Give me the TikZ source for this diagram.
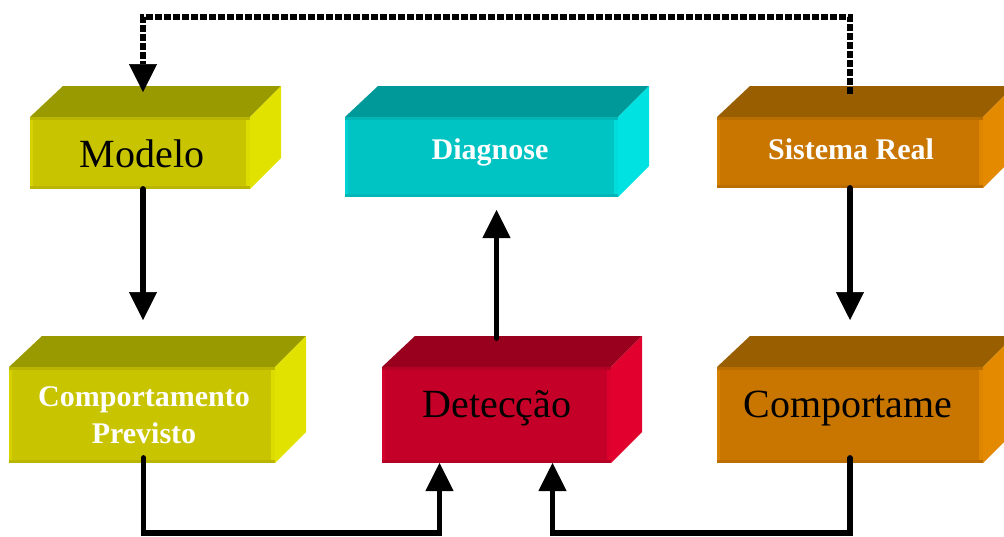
\documentclass[tikz,border=0pt]{standalone}
\usepackage{fontspec}
\setmainfont{Liberation Serif}
\usetikzlibrary{arrows.meta}

% colour families: top face, front face, side face, front bevels
\definecolor{olive-top}{HTML}{999900}
\definecolor{olive-front}{HTML}{C8C400}
\definecolor{olive-side}{HTML}{E2E200}
\definecolor{olive-dark}{HTML}{BAB600}
\definecolor{olive-light}{HTML}{D6D200}
\definecolor{teal-top}{HTML}{009999}
\definecolor{teal-front}{HTML}{00C4C4}
\definecolor{teal-side}{HTML}{00E2E2}
\definecolor{teal-dark}{HTML}{00B6B6}
\definecolor{teal-light}{HTML}{00D2D2}
\definecolor{amber-top}{HTML}{995E00}
\definecolor{amber-front}{HTML}{C87600}
\definecolor{amber-side}{HTML}{E48A00}
\definecolor{amber-dark}{HTML}{BA6E00}
\definecolor{amber-light}{HTML}{D68000}
\definecolor{crimson-top}{HTML}{99001E}
\definecolor{crimson-front}{HTML}{C40028}
\definecolor{crimson-side}{HTML}{E2002E}
\definecolor{crimson-dark}{HTML}{B60024}
\definecolor{crimson-light}{HTML}{D2002B}

\tikzset{
  front/.style={inner sep=0pt, outer sep=0pt, anchor=north west, draw=none},
  conn/.style={line width=5.8pt, line cap=round, line join=miter},
  tip/.style={-{Triangle[width=28pt,length=28pt,line width=0.5pt]}},
  dashconn/.style={line width=5.8pt, line cap=butt, line join=miter, dash pattern=on 7pt off 2pt},
  bigtxt/.style={font=\fontsize{40}{48}\selectfont, text=black, inner sep=0pt, anchor=base},
  smalltxt/.style={font=\fontsize{30}{37}\selectfont\bfseries, text=white, inner sep=0pt, align=center, anchor=base},
}

% \blockbox{name}{x1}{y1}{x2}{y2}{family}: extruded box, front face is the node
\newcommand\blockbox[6]{%
  \fill[#6-top] (#2,#3) -- ({#2+33},{#3-31}) -- ({#4+31},{#3-31}) -- (#4,#3) -- cycle;
  \fill[#6-side] (#4,#3) -- ({#4+31},{#3-31}) -- ({#4+31},{#5-31}) -- (#4,#5) -- cycle;
  \node[front, fill=#6-front, minimum width={(#4-#2)*1pt}, minimum height={(#5-#3)*1pt}] (#1) at (#2,#3) {};
  \fill[#6-light] (#2,#3) rectangle ({#2+3},#5);
  \fill[#6-side!80!#6-front] ({#4-4},#3) rectangle (#4,#5);
  \fill[#6-dark] (#2,#3) rectangle (#4,{#3+3});
  \fill[#6-dark] (#2,{#5-3}) rectangle (#4,#5);
}

\begin{document}
\begin{tikzpicture}[x=1pt, y=-1pt]
  \useasboundingbox (0,0) rectangle (1004,536);
  \clip (0,0) rectangle (1004,536);

  % blocks
  \blockbox{modelo}{30}{117}{250}{189}{olive}
  \blockbox{diag}{345}{117}{618}{197}{teal}
  \blockbox{sistema}{717}{117}{983}{188}{amber}
  \blockbox{prev}{9}{367}{275}{463}{olive}
  \blockbox{detec}{382}{367}{611}{463}{crimson}
  \blockbox{comp}{717}{367}{983}{463}{amber}

  % labels
  \node[bigtxt] (modelo-txt) at (142,167) {Modelo};
  \node[smalltxt] (diag-txt) at (490,159) {Diagnose};
  \node[smalltxt] (sistema-txt) at (851,159) {Sistema Real};
  \node[smalltxt] (prev-txt) at (144,443) {Comportamento\\Previsto};
  \node[bigtxt] (detec-txt) at (497,417) {Detecção};
  \node[bigtxt] (comp-txt) at (848,417) {Comportame};

  % routing points
  \coordinate (topline) at (0,17);
  \coordinate (botline) at (0,533);

  % feedback from the real system back to the model
  \draw[dashconn, tip] ([yshift=23pt]sistema.north)
    -- (sistema.north |- topline)
    -- ([xshift=3pt]modelo.north |- topline)
    -- ([xshift=3pt,yshift=25pt]modelo.north);

  % vertical flows
  \draw[conn, tip] ([xshift=3pt]modelo.south) -- ([xshift=3pt,yshift=47pt]modelo.south |- prev.north);
  \draw[conn, tip] (sistema.south) -- ([yshift=47pt]sistema.south |- comp.north);
  \draw[conn, tip] ([yshift=29pt]detec.north) -- ([yshift=-13pt]detec.north |- diag.south);

  % both behaviours into detection
  \draw[conn, tip] ([xshift=1.5pt,yshift=5pt]prev.south)
    -- ([xshift=1.5pt]prev.south |- botline)
    -- ([xshift=-57pt]detec.south |- botline)
    -- ([xshift=-57pt]detec.south);
  \draw[conn, tip] ([yshift=5pt]comp.south)
    -- (comp.south |- botline)
    -- ([xshift=56pt]detec.south |- botline)
    -- ([xshift=56pt]detec.south);
\end{tikzpicture}
\end{document}
